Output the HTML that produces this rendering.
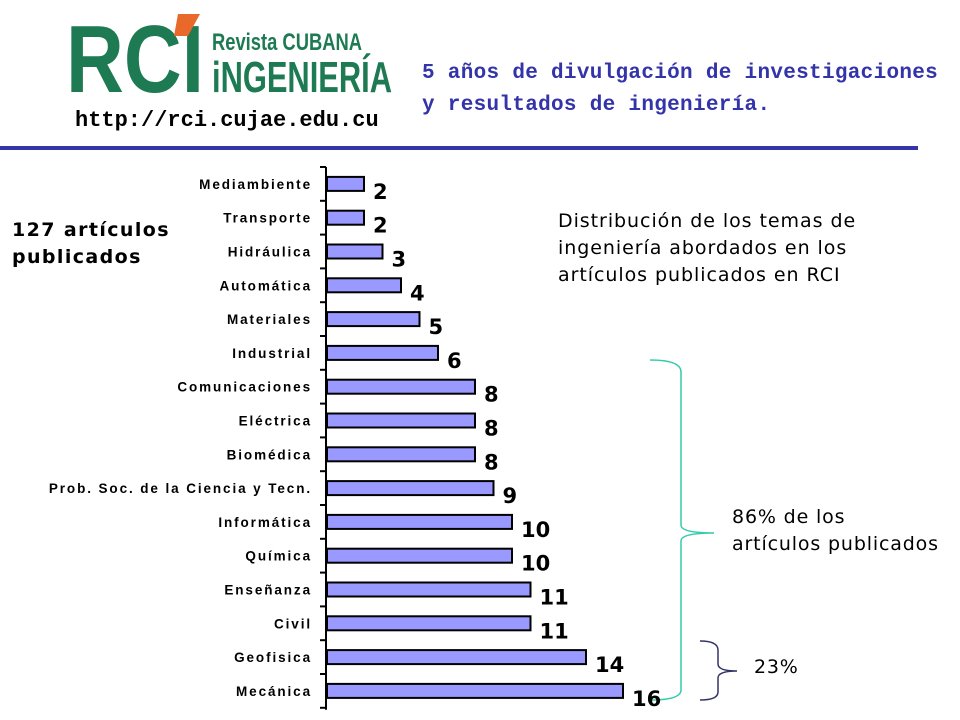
<!DOCTYPE html>
<html><head><meta charset="utf-8"><style>
body{margin:0;width:960px;height:720px;background:#fff;position:relative;overflow:hidden;font-family:"Liberation Sans",sans-serif}
.a{position:absolute;white-space:nowrap}
</style></head><body>
<div class="a" style="left:66px;top:8px;width:330px;height:90px">
<svg width="330" height="90">
<text x="0" y="84" font-family="Liberation Sans" font-weight="bold" font-size="96" fill="#1d7a52" textLength="138" lengthAdjust="spacingAndGlyphs">RCI</text>
<polygon points="112,6 134,6 122,28 108,28" fill="#e8692a"/>
<text x="146" y="42" font-family="Liberation Sans" font-weight="bold" font-size="24" fill="#1d7a52" textLength="150" lengthAdjust="spacingAndGlyphs">Revista CUBANA</text>
<text x="146" y="84" font-family="Liberation Sans" font-weight="bold" font-size="44" fill="#1d7a52" textLength="180" lengthAdjust="spacingAndGlyphs">iNGENIERÍA</text>
</svg></div>
<div class="a" style="left:75px;top:108px;font-family:'Liberation Mono',monospace;font-weight:bold;font-size:22px;color:#000">http://rci.cujae.edu.cu</div>
<div class="a" style="left:422px;top:58px;font-family:'Liberation Mono',monospace;font-weight:bold;font-size:21px;line-height:32px;color:#3333aa;letter-spacing:0.3px">5 años de divulgación de investigaciones<br>y resultados de ingeniería.</div>
<div class="a" style="left:0;top:146px;width:918px;height:4px;background:#3535a8"></div>
<div class="a" style="left:12px;top:217px;font-family:'DejaVu Sans',sans-serif;font-weight:bold;font-size:19px;line-height:27px;letter-spacing:1.4px">127 artículos<br>publicados</div>
<div class="a" style="left:558px;top:208px;font-family:'DejaVu Sans',sans-serif;font-size:19px;line-height:27px;letter-spacing:0.95px">Distribución de los temas de<br>ingeniería abordados en los<br>artículos publicados en RCI</div>
<div class="a" style="left:732px;top:504px;font-family:'DejaVu Sans',sans-serif;font-size:19px;line-height:27px;letter-spacing:0.85px">86% de los<br>artículos publicados</div>
<div class="a" style="left:754px;top:656px;font-family:'DejaVu Sans',sans-serif;font-size:19px;letter-spacing:0.8px">23%</div>
<svg class="a" id="chart" style="left:0;top:0" width="960" height="720">
<path d="M650,360 Q681,360 681,372 L681,525 Q681,533 714,533 Q681,533 681,541 L681,690 Q681,700 650,700" fill="none" stroke="#33ccaa" stroke-width="1.5"/>
<path d="M700,641 Q718,641 718,650 L718,664 Q718,671 737,671 Q718,671 718,678 L718,692 Q718,700 700,700" fill="none" stroke="#333366" stroke-width="1.5"/>
</svg>
<script>
const categories=["Mediambiente","Transporte","Hidráulica","Automática","Materiales","Industrial","Comunicaciones","Eléctrica","Biomédica","Prob. Soc. de la Ciencia y Tecn.","Informática","Química","Enseñanza","Civil","Geofisica","Mecánica"];
const values=[2,2,3,4,5,6,8,8,8,9,10,10,11,11,14,16];
const NS="http://www.w3.org/2000/svg";
const svg=document.getElementById('chart');
const x0=327,unit=18.5,top0=167,step=33.8;
const xs=v=>x0+v*unit;
const yc=i=>top0+step*(i+0.5);
function mk(t,a){const e=document.createElementNS(NS,t);for(const k in a)e.setAttribute(k,a[k]);svg.appendChild(e);return e;}
const ax=mk('line',{x1:326,y1:top0,x2:326,y2:top0+step*16+2,stroke:'#000','stroke-width':2});


for(let i=0;i<=16;i++){const t=mk('line',{x1:320,x2:326,y1:top0+step*i,y2:top0+step*i,stroke:'#000','stroke-width':2});

}
categories.forEach((c,i)=>{
const y=yc(i);
const r=mk('rect',{x:x0,y:y-7,width:xs(values[i])-x0,height:14,fill:'#9999ff',stroke:'#000','stroke-width':2});


const l=mk('text',{x:312,y:y+5,'text-anchor':'end','font-family':'Liberation Sans','font-weight':'bold','font-size':13.5,'letter-spacing':1.9});
l.textContent=c;


const v=mk('text',{x:xs(values[i])+9,y:y+15,'font-family':'DejaVu Sans','font-weight':'bold','font-size':21});
v.textContent=values[i];


});
</script>
</body></html>
